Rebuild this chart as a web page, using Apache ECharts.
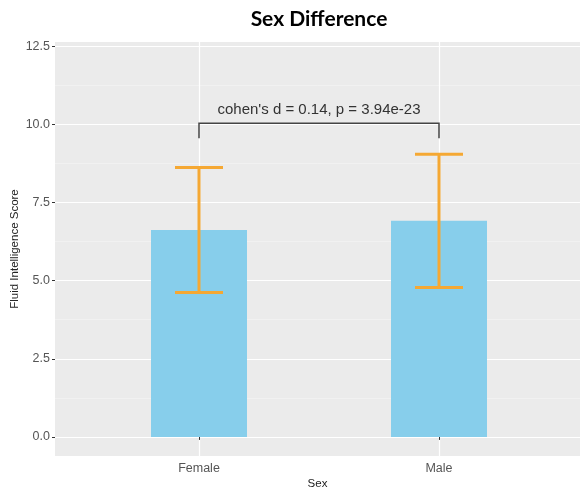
<!DOCTYPE html>
<html>
<head>
<meta charset="utf-8">
<script src="https://cdn.jsdelivr.net/npm/echarts@6/dist/echarts.min.js"></script>
<style>
  html, body { margin: 0; padding: 0; background: #fff; }
  #chart { width: 580px; height: 493px; }
</style>
</head>
<body>
<div id="chart"></div>
<script>
// Group labels and summary statistics
const categories = ['Female', 'Male'];
const means = [6.62, 6.91];
const sds = [2.0, 2.13];

// Axis ticks
const yMajorTicks = [0, 2.5, 5, 7.5, 10, 12.5];
const yMinorTicks = [1.25, 3.75, 6.25, 8.75, 11.25];

// Comparison annotation
const bracketText = "cohen's d = 0.14, p = 3.94e-23";
const bracketTop = 10.03;
const bracketTip = 9.55;
const bracketLabelY = 10.47;

const xPositions = categories.map((c, i) => i + 1);
const barData = categories.map((c, i) => [xPositions[i], means[i]]);
const errData = categories.map((c, i) => [xPositions[i], means[i] - sds[i], means[i] + sds[i]]);

const chart = echarts.init(document.getElementById('chart'), null, { renderer: 'canvas' });

const labelFont = 'Liberation Sans, Arial, sans-serif';

chart.setOption({
  animation: false,
  backgroundColor: '#ffffff',
  title: {
    text: 'Sex Difference',
    left: 314,
    textAlign: 'center',
    top: 4,
    textStyle: { fontFamily: 'Lato, Open Sans, sans-serif', fontWeight: 'bold', fontSize: 21, color: '#000' }
  },
  grid: {
    left: 55, right: 0, top: 42, bottom: 37,
    outerBoundsMode: 'none',
    containLabel: false,
    show: true, backgroundColor: '#EBEBEB', borderWidth: 0
  },
  xAxis: {
    type: 'value',
    min: 0.4,
    max: 2.5875,
    name: 'Sex',
    nameLocation: 'middle',
    nameGap: 22,
    nameMoveOverlap: false,
    nameTextStyle: { fontFamily: labelFont, fontSize: 11.5, color: '#222' },
    axisLine: { show: false },
    axisTick: { show: true, length: 3, customValues: xPositions, lineStyle: { color: '#333', width: 1 } },
    axisLabel: {
      customValues: xPositions,
      formatter: v => categories[Math.round(v) - 1],
      fontFamily: labelFont, fontSize: 12.5, color: '#555', margin: 6
    },
    splitLine: { show: true, lineStyle: { color: '#ffffff', width: 1.2 } }
  },
  yAxis: [
    {
      type: 'value',
      min: -0.61,
      max: 12.63,
      name: 'Fluid Intelligence Score',
      nameLocation: 'middle',
      nameGap: 34,
      nameMoveOverlap: false,
      nameTextStyle: { fontFamily: labelFont, fontSize: 11.5, color: '#222' },
      axisLine: { show: false },
      axisTick: { show: true, length: 3, customValues: yMajorTicks, lineStyle: { color: '#333', width: 1 } },
      axisLabel: {
        customValues: yMajorTicks,
        formatter: v => v.toFixed(1),
        fontFamily: labelFont, fontSize: 12.5, color: '#555', margin: 5
      },
      splitLine: { show: true, lineStyle: { color: '#ffffff', width: 1.2 } }
    },
    {
      type: 'value',
      min: -0.61,
      max: 12.63,
      position: 'left',
      axisLine: { show: false },
      axisTick: { show: false, customValues: yMinorTicks },
      axisLabel: { show: false, customValues: yMinorTicks },
      splitLine: { show: true, lineStyle: { color: '#F4F4F4', width: 0.7 } }
    }
  ],
  series: [
    {
      type: 'bar',
      data: barData,
      barWidth: 96,
      itemStyle: { color: '#87CEEB' },
      z: 2
    },
    {
      type: 'custom',
      data: errData,
      z: 3,
      renderItem: (params, api) => {
        const x = api.value(0);
        const lo = api.coord([x, api.value(1)]);
        const hi = api.coord([x, api.value(2)]);
        const half = api.size([0.2, 0])[0] / 2;
        const style = { stroke: '#F5A833', lineWidth: 3, fill: null };
        return {
          type: 'group',
          children: [
            { type: 'line', shape: { x1: lo[0], y1: lo[1], x2: hi[0], y2: hi[1] }, style },
            { type: 'line', shape: { x1: hi[0] - half, y1: hi[1], x2: hi[0] + half, y2: hi[1] }, style },
            { type: 'line', shape: { x1: lo[0] - half, y1: lo[1], x2: lo[0] + half, y2: lo[1] }, style }
          ]
        };
      }
    },
    {
      type: 'custom',
      data: [[xPositions[0], xPositions[1], bracketTop, bracketTip, bracketLabelY]],
      z: 4,
      renderItem: (params, api) => {
        const x1 = api.value(0), x2 = api.value(1);
        const a = api.coord([x1, api.value(3)]);
        const b = api.coord([x1, api.value(2)]);
        const c = api.coord([x2, api.value(2)]);
        const d = api.coord([x2, api.value(3)]);
        const t = api.coord([(x1 + x2) / 2, api.value(4)]);
        return {
          type: 'group',
          children: [
            { type: 'polyline', shape: { points: [a, b, c, d] }, style: { stroke: '#444', lineWidth: 1.5, fill: null } },
            { type: 'text', x: t[0], y: t[1], style: {
                text: bracketText, fill: '#333', font: '15px ' + labelFont,
                textAlign: 'center', textVerticalAlign: 'middle' } }
          ]
        };
      }
    }
  ]
});
</script>
</body>
</html>
